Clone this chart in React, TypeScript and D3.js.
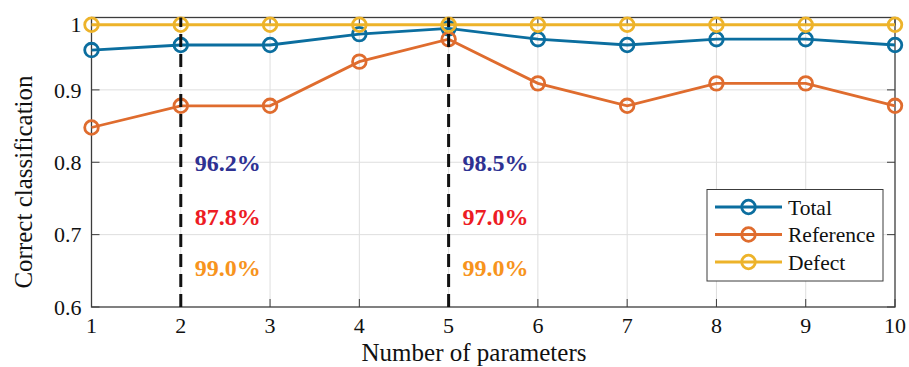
import React from "react";
import * as d3 from "d3";

const params = [1, 2, 3, 4, 5, 6, 7, 8, 9, 10];
const totalVals = [0.955, 0.962, 0.962, 0.977, 0.985, 0.970, 0.962, 0.970, 0.970, 0.962];
const referenceVals = [0.848, 0.878, 0.878, 0.939, 0.970, 0.909, 0.878, 0.909, 0.909, 0.878];
const defectVals = [0.99, 0.99, 0.99, 0.99, 0.99, 0.99, 0.99, 0.99, 0.99, 0.99];
const yTicks = [0.6, 0.7, 0.8, 0.9, 1];
const markedParams = [2, 5];
const annotationTexts = [
  ["96.2%", "87.8%", "99.0%"],
  ["98.5%", "97.0%", "99.0%"],
];
const annotationLevels = [0.8, 0.725, 0.655];
const annotationColors = ["#2e3192", "#ed1c24", "#f7941d"];

const seriesNames = ["Total", "Reference", "Defect"];
const seriesColors = ["#0b6e9f", "#df6c2e", "#edb32a"];
const seriesData = [totalVals, referenceVals, defectVals];

const W = 909;
const H = 367;
const left = 91.5;
const right = 895;
const top = 17.5;
const bottom = 307;

export default function App() {
  const x = d3.scaleLinear().domain([1, 10]).range([left, right]);
  const y = d3.scaleLinear().domain([0.6, 1]).range([bottom, top]);
  const line = d3
    .line<number>()
    .x((_, i) => x(params[i]))
    .y((d) => y(d));
  const font = "'Liberation Serif', 'Times New Roman', serif";
  const axisColor = "#3c3c3c";
  const tickLen = 8;

  return (
    <svg
      width={W}
      height={H}
      style={{ position: "absolute", left: 0, top: 0, background: "#fff" }}
      fontFamily={font}
    >
      {/* gridlines */}
      {params.slice(1, -1).map((p) => (
        <line key={"gx" + p} x1={x(p)} x2={x(p)} y1={top} y2={bottom} stroke="#dedede" strokeWidth={1} />
      ))}
      {yTicks.slice(1, -1).map((t) => (
        <line key={"gy" + t} x1={left} x2={right} y1={y(t)} y2={y(t)} stroke="#dedede" strokeWidth={1} />
      ))}
      {/* tick marks */}
      {params.map((p) => (
        <g key={"tx" + p}>
          <line x1={x(p)} x2={x(p)} y1={bottom} y2={bottom - tickLen} stroke={axisColor} strokeWidth={1} />
          <line x1={x(p)} x2={x(p)} y1={top} y2={top + tickLen} stroke={axisColor} strokeWidth={1} />
        </g>
      ))}
      {yTicks.map((t) => (
        <g key={"ty" + t}>
          <line x1={left} x2={left + tickLen} y1={y(t)} y2={y(t)} stroke={axisColor} strokeWidth={1} />
          <line x1={right} x2={right - tickLen} y1={y(t)} y2={y(t)} stroke={axisColor} strokeWidth={1} />
        </g>
      ))}
      {/* box */}
      <rect x={left} y={top} width={right - left} height={bottom - top} fill="none" stroke={axisColor} strokeWidth={1.3} />

      {/* tick labels */}
      {params.map((p) => (
        <text key={"lx" + p} x={x(p)} y={bottom + 26} textAnchor="middle" fontSize={22} fill="#111">
          {p}
        </text>
      ))}
      {yTicks.map((t) => (
        <text
          key={"ly" + t}
          x={left - 10}
          y={y(t) + (t === 1 ? 7 : 0)}
          dy="0.35em"
          textAnchor="end"
          fontSize={22}
          fill="#111"
        >
          {d3.format("~g")(t)}
        </text>
      ))}

      {/* axis titles */}
      <text x={474} y={361} textAnchor="middle" fontSize={25} fill="#111">
        Number of parameters
      </text>
      <text
        transform={`translate(32, 182) rotate(-90)`}
        textAnchor="middle"
        fontSize={25}
        fill="#111"
      >
        Correct classification
      </text>

      {/* series */}
      {seriesData.map((vals, si) => (
        <g key={"s" + si}>
          <path d={line(vals) || ""} fill="none" stroke={seriesColors[si]} strokeWidth={2.8} />
          {vals.map((v, i) => (
            <circle
              key={i}
              cx={x(params[i])}
              cy={y(v)}
              r={6.8}
              fill="none"
              stroke={seriesColors[si]}
              strokeWidth={2.8}
            />
          ))}
        </g>
      ))}

      {/* dashed markers */}
      {markedParams.map((p) => (
        <line
          key={"d" + p}
          x1={x(p)}
          x2={x(p)}
          y1={bottom}
          y2={top}
          stroke="#111"
          strokeWidth={3}
          strokeDasharray="13,7"
        />
      ))}

      {/* annotations */}
      {markedParams.map((p, mi) =>
        annotationTexts[mi].map((txt, ai) => (
          <text
            key={"a" + mi + ai}
            x={x(p) + 14}
            y={y(annotationLevels[ai])}
            dy="0.35em"
            fontSize={24}
            fontWeight="bold"
            fill={annotationColors[ai]}
          >
            {txt}
          </text>
        ))
      )}

      {/* legend */}
      <g>
        <rect x={707} y={189.5} width={176} height={91.5} fill="#fff" stroke={axisColor} strokeWidth={1} />
        {seriesNames.map((n, i) => {
          const ly = 207 + i * 27.5;
          return (
            <g key={"lg" + n}>
              <line x1={715} x2={782} y1={ly} y2={ly} stroke={seriesColors[i]} strokeWidth={2.8} />
              <circle cx={748.5} cy={ly} r={6.8} fill="none" stroke={seriesColors[i]} strokeWidth={2.8} />
              <text x={788} y={ly} dy="0.35em" fontSize={21.5} fill="#111">
                {n}
              </text>
            </g>
          );
        })}
      </g>
    </svg>
  );
}
